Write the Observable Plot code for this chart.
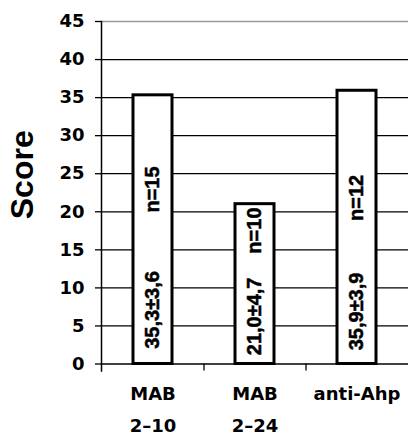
<!DOCTYPE html>
<html><head><meta charset="utf-8">
<script src="https://cdn.jsdelivr.net/npm/d3@7"></script>
<script src="https://cdn.jsdelivr.net/npm/@observablehq/plot@0.6"></script>
<style>body{margin:0;background:#fff}</style>
</head><body><div id="chart"></div>
<script>
const categories = ["MAB\n2–10", "MAB\n2–24", "anti-Ahp"];
const scores = [35.3, 21.0, 35.9];
const statLabels = ["35,3±3,6", "21,0±4,7", "35,9±3,9"];
const nLabels = ["n=15", "n=10", "n=12"];
const statAnchor = [2.0, 1.15, 1.8];
const nAnchor = [19.9, 14.5, 18.8];
const yTicks = [0, 5, 10, 15, 20, 25, 30, 35, 40, 45];
const yLabel = "Score";

const rows = categories.map((c, i) => ({
  category: c, score: scores[i], stat: statLabels[i], n: nLabels[i],
  statAt: statAnchor[i], nAt: nAnchor[i]
}));

const barText = {rotate: -90, textAnchor: "start", fontFamily: "'Liberation Sans', Arial, sans-serif",
  fontSize: 20, fontWeight: "bold", fill: "#000", stroke: "#000", strokeWidth: 0.5};

const chart = Plot.plot({
  width: 408, height: 436,
  marginTop: 21, marginBottom: 72.5, marginLeft: 101, marginRight: 0,
  style: {fontFamily: "'DejaVu Sans', sans-serif", fontWeight: "bold", fontSize: "18px", background: "#fff", color: "#000"},
  x: {domain: categories, paddingInner: 0.62, paddingOuter: 0.31, axis: null},
  y: {domain: [0, 45], axis: null},
  marks: [
    Plot.gridY(yTicks.filter(t => t > 0 && t < 45), {stroke: "#000", strokeOpacity: 1, strokeWidth: 1.2}),
    Plot.gridY([45], {stroke: "#999", strokeOpacity: 1, strokeWidth: 1.6}),
    Plot.ruleY([0], {stroke: "#000", strokeWidth: 1.5}),
    Plot.frame({anchor: "left", stroke: "#000", strokeWidth: 1.5, insetBottom: -7}),
    Plot.axisY(yTicks, {tickSize: 6, tickPadding: 11, label: null, fontSize: 18, stroke: "#000", strokeWidth: 1.3}),
    Plot.axisX(categories.slice(0, 2), {tickSize: 7, tickFormat: () => "", dx: 51, label: null, stroke: "#000", strokeWidth: 1.3}),
    Plot.barY(rows, {x: "category", y: "score", fill: "#fff", stroke: "#000", strokeWidth: 3}),
    Plot.text(rows, {x: "category", y: "statAt", text: "stat", ...barText}),
    Plot.text(rows, {x: "category", y: "nAt", text: "n", ...barText}),
    Plot.text(rows, {x: "category", y: 0, text: "category", lineAnchor: "top", dy: 13, lineHeight: 1.8,
      fontSize: 18, fill: "#000"}),
    Plot.text([yLabel], {frameAnchor: "left", dx: -79, dy: -18, rotate: -90, textAnchor: "middle", fontSize: 32,
      fontFamily: "'Liberation Sans', Arial, sans-serif", fontWeight: "bold", fill: "#000"})
  ]
});
document.getElementById("chart").append(chart);
</script>
</body></html>
